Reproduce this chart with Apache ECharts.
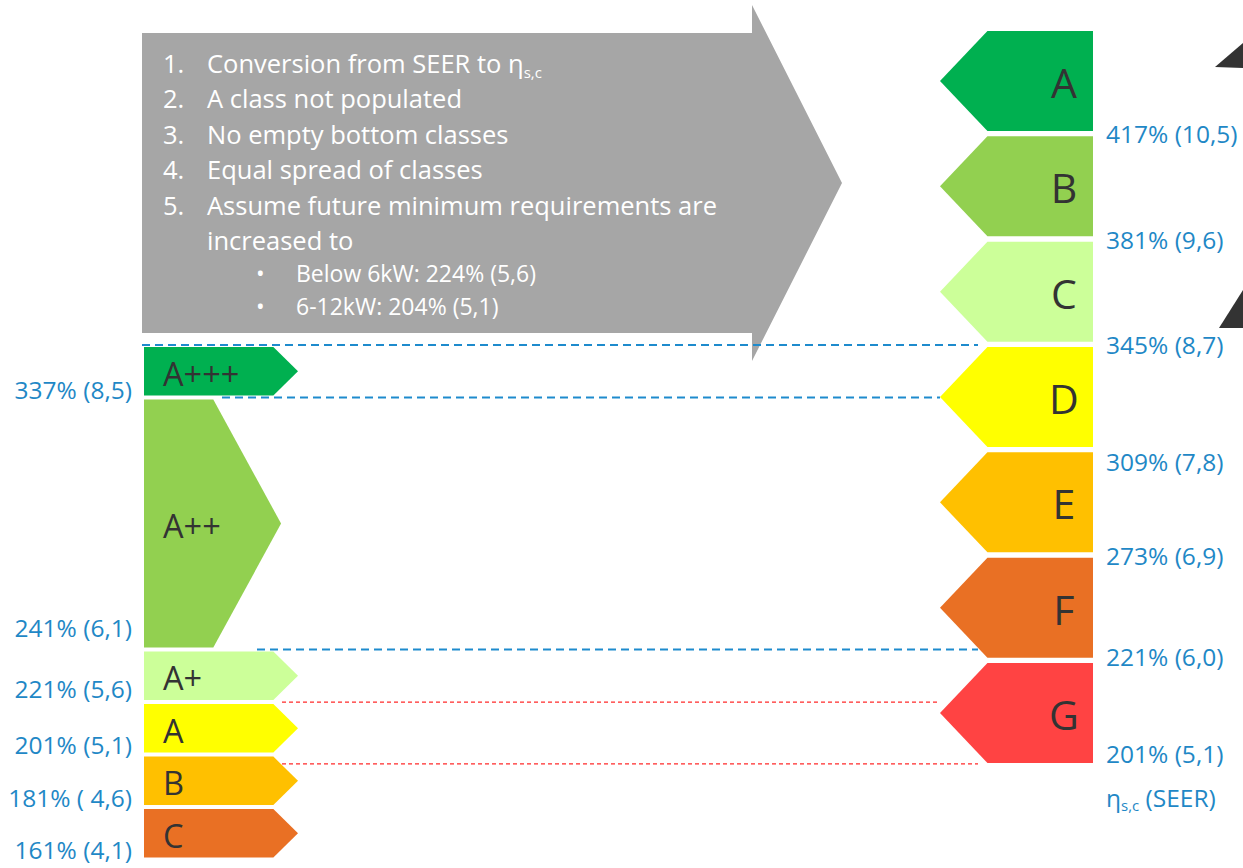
<!DOCTYPE html>
<html>
<head>
<meta charset="utf-8">
<script src="https://cdn.jsdelivr.net/npm/echarts@6/dist/echarts.min.js"></script>
<style>
  html, body { margin: 0; padding: 0; background: #fff; }
  #chart { width: 1243px; height: 868px; }
</style>
</head>
<body>
<div id="chart"></div>
<script>
// Current energy classes (left scale), bounds in % of ηs,c
const currentClasses = ['A+++', 'A++', 'A+', 'A', 'B', 'C'];
const currentUpper = [357, 337, 241, 221, 201, 181];
const currentLower = [337, 241, 221, 201, 181, 161];
const currentSeer = ['8,5', '6,1', '5,6', '5,1', ' 4,6', '4,1'];

// Proposed classes (right scale): lower bound of each class
const proposedClasses = ['A', 'B', 'C', 'D', 'E', 'F', 'G'];
const proposedLower = [417, 381, 345, 309, 273, 221, 201];
const proposedSeer = ['10,5', '9,6', '8,7', '7,8', '6,9', '6,0', '5,1'];

// Assumptions listed in the grey arrow
const assumptions = [
  'Conversion from SEER to ',
  'A class not populated',
  'No empty bottom classes',
  'Equal spread of classes',
  'Assume future minimum requirements are\nincreased to'
];
const minimumRequirements = ['Below 6kW: 224% (5,6)', '6-12kW: 204% (5,1)'];

// Guide lines: values on the current scale, class index on the proposed scale
const currentGuides = [357, 337, 241, 221];
const proposedGuides = [6];

// ---- styling ----
const classColors = ['#00b050', '#92d050', '#ccff99', '#ffff00', '#ffc000', '#e97024', '#ff4343'];
const LABEL_BLUE = '#1f88c6';
const LETTER = '#333333';
const FONT = '"Open Sans", "Noto Sans", sans-serif';
const LABEL_FONT = '24.5px ' + FONT;

// vertical nudges of the boundary labels (px)
const currentLabelNudge = [2, -12, -4, 0, 0, 0];
const proposedLabelNudge = [0, 0, 0, 12, 0, -4, -12];

// horizontal extent of each guide line and its stroke
const guideLayout = [
  { x0: 142, x1: 978, color: '#1e8bcd', width: 2, dash: [8, 5] },
  { x0: 222, x1: 940, color: '#1e8bcd', width: 2, dash: [8, 5] },
  { x0: 257, x1: 978, color: '#1e8bcd', width: 2, dash: [8, 5] },
  { x0: 282, x1: 940, color: '#ff2a2a', width: 1.3, dash: [4, 3] }
];
const proposedGuideLayout = [
  { x0: 282, x1: 978, color: '#ff2a2a', width: 1.3, dash: [4, 3] }
];

const chart = echarts.init(document.getElementById('chart'), null, { renderer: 'svg' });

function renderCurrent(params, api) {
  const i = params.dataIndex;
  const hi = api.value(1), lo = api.value(2);
  // the wide A++ band gets a shorter, steeper head
  const shape = i === 1 ? { body: 0.45, tip: 0.89 } : { body: 0.84, tip: 1 };
  const yTop = api.coord([0, hi])[1] + 2;
  const yBot = api.coord([0, lo])[1] - 2;
  const yMid = (yTop + yBot) / 2;
  const x0 = api.coord([0, hi])[0];
  const xb = api.coord([shape.body, hi])[0];
  const xt = api.coord([shape.tip, hi])[0];
  return {
    type: 'group',
    children: [
      {
        type: 'polygon',
        shape: { points: [[x0, yTop], [xb, yTop], [xt, yMid], [xb, yBot], [x0, yBot]] },
        style: { fill: classColors[i] }
      },
      {
        type: 'text', x: x0 + 19, y: yMid + 2,
        style: { text: currentClasses[i], fill: LETTER, font: '32.5px ' + FONT, verticalAlign: 'middle', align: 'left' }
      },
      {
        type: 'text', x: x0 - 12, y: api.coord([0, lo])[1] - 10 + currentLabelNudge[i],
        style: { text: lo + '% (' + currentSeer[i] + ')', fill: LABEL_BLUE, font: LABEL_FONT, verticalAlign: 'middle', align: 'right' }
      }
    ]
  };
}

function renderProposed(params, api) {
  const i = params.dataIndex;
  const c = api.coord([0, api.value(1)]);
  const band = api.size([0, 1])[1];
  const yTop = c[1] - band / 2;
  const yBot = yTop + band - 5.3;
  const yMid = (yTop + yBot) / 2;
  const x0 = c[0];
  const xs = api.coord([0.31, i])[0];
  const x1 = api.coord([1, i])[0];
  const xl = api.coord([0.81, i])[0];
  return {
    type: 'group',
    children: [
      {
        type: 'polygon',
        shape: { points: [[xs, yTop], [x1, yTop], [x1, yBot], [xs, yBot], [x0, yMid]] },
        style: { fill: classColors[i] }
      },
      {
        type: 'text', x: xl, y: yMid + 1,
        style: { text: proposedClasses[i], fill: LETTER, font: '41px ' + FONT, verticalAlign: 'middle', align: 'center' }
      },
      {
        type: 'text', x: x1 + 13, y: yTop + band - 2.6 + proposedLabelNudge[i],
        style: { text: api.value(2) + '% (' + proposedSeer[i] + ')', fill: LABEL_BLUE, font: LABEL_FONT, verticalAlign: 'middle', align: 'left' }
      }
    ]
  };
}

function renderCurrentGuide(params, api) {
  const g = guideLayout[params.dataIndex];
  const y = api.coord([0, api.value(1)])[1];
  return {
    type: 'line',
    shape: { x1: g.x0, y1: y, x2: g.x1, y2: y },
    style: { stroke: g.color, lineWidth: g.width, lineDash: g.dash }
  };
}

function renderProposedGuide(params, api) {
  const g = proposedGuideLayout[params.dataIndex];
  const c = api.coord([0, api.value(1)]);
  const band = api.size([0, 1])[1];
  const y = c[1] + band / 2 - 4.5;
  return {
    type: 'line',
    shape: { x1: g.x0, y1: y, x2: g.x1, y2: y },
    style: { stroke: g.color, lineWidth: g.width, lineDash: g.dash }
  };
}

// grey arrow with the list of assumptions
const listFont = '25.5px ' + FONT;
const bulletFont = '23px ' + FONT;
const listChildren = [];
assumptions.forEach((t, k) => {
  const y = 63 + k * 35.4;
  listChildren.push({
    type: 'text', x: 163, y: y, z: 3,
    style: { text: (k + 1) + '.', fill: '#fff', font: listFont, verticalAlign: 'middle' }
  });
  if (k === 0) {
    listChildren.push({
      type: 'text', x: 207, y: y, z: 3,
      style: {
        text: '{m|' + t + '}{e|η}{s|s,c}',
        verticalAlign: 'middle',
        rich: {
          m: { fill: '#fff', font: listFont, lineHeight: 32 },
          e: { fill: '#fff', font: listFont, lineHeight: 32 },
          s: { fill: '#fff', font: '15px ' + FONT, lineHeight: 15, verticalAlign: 'bottom' }
        }
      }
    });
  } else {
    listChildren.push({
      type: 'text', x: 207, y: y - 17.7, z: 3,
      style: { text: t, fill: '#fff', font: listFont, lineHeight: 35.4, verticalAlign: 'top' }
    });
  }
});
minimumRequirements.forEach((t, k) => {
  const y = 273 + k * 33;
  listChildren.push({
    type: 'text', x: 256, y: y, z: 3,
    style: { text: '•', fill: '#fff', font: bulletFont, verticalAlign: 'middle' }
  });
  listChildren.push({
    type: 'text', x: 296, y: y, z: 3,
    style: { text: t, fill: '#fff', font: bulletFont, verticalAlign: 'middle' }
  });
});

const option = {
  backgroundColor: '#ffffff',
  animation: false,
  grid: [
    { left: 144, top: 345, width: 154, height: 514.6 },
    { left: 940, top: 31, width: 153, height: 737.3 }
  ],
  xAxis: [
    { type: 'value', gridIndex: 0, min: 0, max: 1, show: false },
    { type: 'value', gridIndex: 1, min: 0, max: 1, show: false }
  ],
  yAxis: [
    { type: 'value', gridIndex: 0, min: 161, max: 357, show: false },
    { type: 'category', gridIndex: 1, data: proposedClasses, inverse: true, show: false }
  ],
  graphic: [
    {
      type: 'polygon', z: 1,
      shape: { points: [[142, 33], [752, 33], [752, 5], [842, 183], [752, 361], [752, 333], [142, 333]] },
      style: { fill: '#a6a6a6' }
    },
    { type: 'group', z: 3, children: listChildren },
    {
      type: 'text', x: 1106, y: 797, z: 3,
      style: {
        text: '{e|η}{s|s,c}{m| (SEER)}',
        verticalAlign: 'middle',
        rich: {
          e: { fill: LABEL_BLUE, font: LABEL_FONT, lineHeight: 30 },
          m: { fill: LABEL_BLUE, font: LABEL_FONT, lineHeight: 30 },
          s: { fill: LABEL_BLUE, font: '15px ' + FONT, lineHeight: 15, verticalAlign: 'bottom' }
        }
      }
    },
    {
      type: 'polygon', z: 3,
      shape: { points: [[1215, 67], [1243, 43], [1243, 68]] },
      style: { fill: '#333333' }
    },
    {
      type: 'polygon', z: 3,
      shape: { points: [[1219, 328], [1243, 290], [1243, 328]] },
      style: { fill: '#333333' }
    }
  ],
  series: [
    {
      type: 'custom', name: 'guides-current', xAxisIndex: 0, yAxisIndex: 0, z: 5, clip: false,
      encode: { x: 0, y: 1 },
      data: currentGuides.map(v => [0, v]),
      renderItem: renderCurrentGuide
    },
    {
      type: 'custom', name: 'guides-proposed', xAxisIndex: 1, yAxisIndex: 1, z: 5, clip: false,
      encode: { x: 0, y: 1 },
      data: proposedGuides.map(i => [0, i]),
      renderItem: renderProposedGuide
    },
    {
      type: 'custom', name: 'current', xAxisIndex: 0, yAxisIndex: 0, z: 10, clip: false,
      encode: { x: 0, y: [1, 2] },
      data: currentClasses.map((n, i) => [0, currentUpper[i], currentLower[i]]),
      renderItem: renderCurrent
    },
    {
      type: 'custom', name: 'proposed', xAxisIndex: 1, yAxisIndex: 1, z: 10, clip: false,
      encode: { x: 0, y: 1 },
      data: proposedClasses.map((n, i) => [0, i, proposedLower[i]]),
      renderItem: renderProposed
    }
  ]
};

chart.setOption(option);
</script>
</body>
</html>
